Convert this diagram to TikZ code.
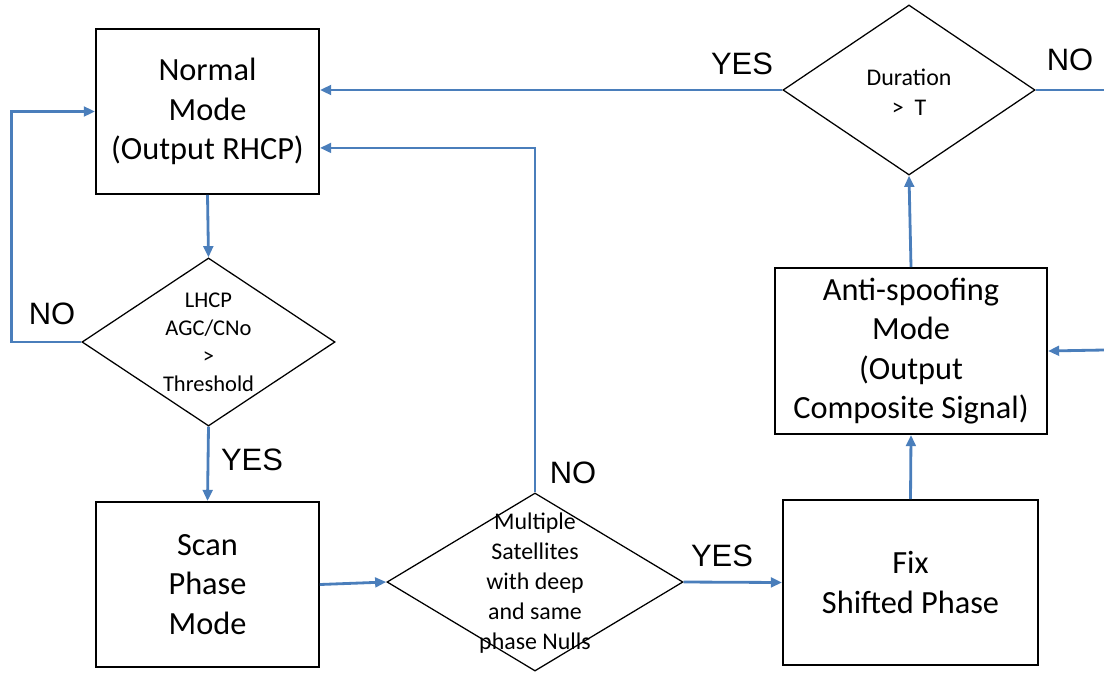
\documentclass[tikz,border=0pt]{standalone}
\usepackage{fontspec}
\setmainfont{Carlito}
\newfontfamily\answerfont{Liberation Sans}
\usetikzlibrary{shapes.geometric, arrows.meta, positioning}
\definecolor{flowblue}{RGB}{74,126,187}

\begin{document}
\begin{tikzpicture}[x=0.025cm, y=-0.025cm,
  modebox/.style={draw=black, line width=1.3pt, align=center, inner sep=0pt,
    minimum width=#1, minimum height=4.125cm, font=\fontsize{23}{28}\selectfont},
  decision/.style={draw=black, diamond, line width=0.9pt, inner sep=0pt},
  asktext/.style={align=center, font=\fontsize{17}{21.3}\selectfont},
  answer/.style={font=\answerfont\fontsize{22}{26}\selectfont},
  flow/.style={draw=flowblue, line width=2pt, -{Triangle[length=0.28cm, width=0.24cm]}},
  plainflow/.style={draw=flowblue, line width=2pt}]
\useasboundingbox (0,0) rectangle (1104,672);

% mode boxes
\node (normal) at (207.5,111.5) [modebox=5.575cm] {Normal\\Mode\\(Output RHCP)};
\node (scan) at (207.5,584.5) [modebox=5.575cm] {Scan\\Phase\\Mode};
\node (fix) at (910.5,582.5) [modebox=6.375cm] {Fix\\Shifted Phase};
\node (anti) at (911,351) [modebox=6.8cm, minimum height=4.15cm] {Anti-spoofing\\Mode\\(Output\\Composite Signal)};

% decisions
\node (lhcp) at (208.5,342) [decision, minimum width=6.325cm, minimum height=4.2cm,
  label={[name=lhcptext, asktext, font=\fontsize{16}{20}\selectfont]center:{LHCP\\AGC/CNo\\>\\Threshold}}] {};
\node (multi) at (535,582) [decision, minimum width=7.4cm, minimum height=4.45cm,
  label={[name=multitext, asktext, yshift=-0.03cm]center:{Multiple\\Satellites\\with deep\\and same\\phase Nulls}}] {};
\node (dur) at (909,90) [decision, minimum width=6.3cm, minimum height=4.25cm,
  label={[name=durtext, asktext, yshift=-0.05cm]center:{Duration\\>\ \ T}}] {};

\coordinate (outR) at (1104,90);
\coordinate (inR) at (1104,350);

% connectors
\draw [flow] (normal.south) -- (lhcp.north);
\draw [flow] (lhcp.south) -- (scan.north);
\draw [flow] (lhcp.west) -- ++(-70,0) |- (normal.west);
\draw [flow] (scan.east) -- (multi.west);
\draw [flow] (multi.north) |- ([yshift=-0.91cm]normal.east);
\draw [flow] (multi.east) -- (fix.west);
\draw [flow] (fix.north) -- (anti.south);
\draw [flow] (anti.north) -- (dur.south);
\draw [flow] (dur.west) -- (dur.west -| normal.east);
\draw [plainflow] (dur.east) -- (outR);
\draw [flow] (inR) -- (anti.east);

% answers
\node (yesdur) at (742,64) [answer] {YES};
\node (nodur) at (1070,60) [answer] {NO};
\node (nolhcp) at (52,314) [answer] {NO};
\node (yeslhcp) at (252,460) [answer] {YES};
\node (nomulti) at (573,473) [answer] {NO};
\node (yesmulti) at (722,556) [answer] {YES};
\end{tikzpicture}
\end{document}
